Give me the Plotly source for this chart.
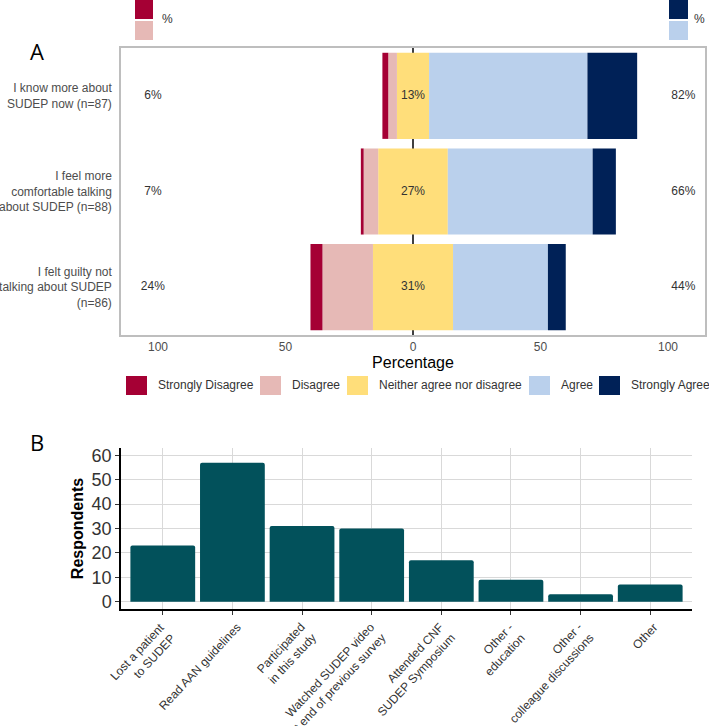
import plotly.graph_objects as go

# ---------- Panel A data (percentages) ----------
statements = ["I know more about<br>SUDEP now (n=87)",
              "I feel more<br>comfortable talking<br>about SUDEP (n=88)",
              "I felt guilty not<br>talking about SUDEP<br>(n=86)"]
strongly_disagree = [2.3, 1.1, 4.7]
disagree = [3.4, 5.7, 19.8]
neutral = [12.6, 27.3, 31.4]
agree = [62.1, 56.8, 37.2]
strongly_agree = [19.5, 9.1, 7.0]
levels = ["Strongly Disagree", "Disagree", "Neither agree nor disagree", "Agree", "Strongly Agree"]
colors = ["#A50034", "#E6B9B6", "#FFDE7A", "#BAD0EC", "#002157"]
a_ticks = [-100, -50, 0, 50, 100]

# ---------- Panel B data ----------
sources = ["Lost a patient<br>to SUDEP", "Read AAN guidelines", "Participated<br>in this study",
           "Watched SUDEP video<br>at end of previous survey", "Attended CNF<br>SUDEP Symposium",
           "Other -<br>education", "Other -<br>colleague discussions", "Other"]
respondents = [23, 57, 31, 30, 17, 9, 3, 7]

W, H = 709, 726
def px(x): return x / W
def py(y): return 1 - y / H

FONT = "Liberation Sans"
fig = go.Figure()

# Panel A stacked diverging bars
half_n = [v / 2 for v in neutral]
segments = [
    ([-v for v in half_n], colors[2], levels[2]),
    ([-v for v in disagree], colors[1], levels[1]),
    ([-v for v in strongly_disagree], colors[0], levels[0]),
    (half_n, colors[2], levels[2]),
    (agree, colors[3], levels[3]),
    (strongly_agree, colors[4], levels[4]),
]
for vals, col, name in segments:
    fig.add_trace(go.Bar(y=statements, x=vals, orientation="h", name=name,
                         marker=dict(color=col, line=dict(width=0)), showlegend=False,
                         xaxis="x", yaxis="y"))

# Percentage labels
left_pct = [round(a + b) for a, b in zip(strongly_disagree, disagree)]
right_pct = [round(a + b) for a, b in zip(agree, strongly_agree)]
mid_pct = [round(v) for v in neutral]
for xpos, vals in [(-102, left_pct), (0, mid_pct), (106, right_pct)]:
    fig.add_trace(go.Scatter(y=statements, x=[xpos] * len(vals), mode="text",
                             text=[f"{v}%" for v in vals],
                             textfont=dict(size=12, color="#333333", family=FONT),
                             showlegend=False, xaxis="x", yaxis="y", hoverinfo="skip"))

# Panel B bars
fig.add_trace(go.Bar(x=sources, y=respondents,
                     marker=dict(color="#02515B", cornerradius=2, line=dict(width=0)),
                     width=0.93, showlegend=False, xaxis="x2", yaxis="y2"))

fig.update_layout(
    width=W, height=H, margin=dict(l=0, r=0, t=0, b=0),
    paper_bgcolor="white", plot_bgcolor="white", showlegend=False,
    font=dict(family=FONT, color="#333333"),
    barmode="relative", bargap=0.1,
    xaxis=dict(domain=[px(121), px(705)], range=[-114.5, 114.5], tickvals=a_ticks,
               ticktext=[str(abs(v)) for v in a_ticks], showgrid=False, zeroline=False,
               showline=True, linecolor="#BEBEBE", linewidth=1.5, mirror=True,
               tickfont=dict(size=12, color="#4D4D4D"), ticks="", automargin=False,
               title=dict(text="Percentage", font=dict(size=16, color="#000000"), standoff=4),
               anchor="y"),
    yaxis=dict(domain=[py(335), py(48)], autorange="reversed", showgrid=False, zeroline=False,
               showline=True, linecolor="#BEBEBE", linewidth=1.5, mirror=True,
               tickfont=dict(size=12, color="#4D4D4D"), ticks="", ticklabelstandoff=5,
               automargin=False, anchor="x"),
    xaxis2=dict(domain=[px(121), px(692)], range=[-0.6, 7.6], showgrid=True, gridcolor="#D9D9D9",
                gridwidth=1, zeroline=False, showline=True, linecolor="#000000", linewidth=1.5,
                ticks="outside", ticklen=4, tickcolor="#333333", showticklabels=False,
                automargin=False, anchor="y2"),
    yaxis2=dict(domain=[py(609), py(448)], range=[-3, 63], tickvals=[0, 10, 20, 30, 40, 50, 60],
                showgrid=True, gridcolor="#D9D9D9", gridwidth=1, zeroline=False, showline=True,
                linecolor="#000000", linewidth=1.5, ticks="outside", ticklen=4, tickcolor="#333333",
                tickfont=dict(size=18, color="#333333"), automargin=False,
                title=dict(text="<b>Respondents</b>", font=dict(size=16, color="#000000"), standoff=4),
                anchor="x2"),
)

# Panel B category labels: rotated, lines right-aligned (hjust = 1)
for cat in sources:
    nlines = cat.count("<br>") + 1
    fig.add_annotation(text=cat, x=cat, xref="x2", y=py(619), yref="paper",
                       xanchor="right", yanchor="top", textangle=-47, align="right",
                       xshift=6 + 6 * nlines, showarrow=False, borderpad=0,
                       font=dict(size=12, color="#333333", family=FONT))

# zero line behind bars
fig.add_shape(type="line", xref="x", yref="y domain", x0=0, x1=0, y0=0, y1=1,
              line=dict(color="#000000", width=1.5), layer="below")

# legend for panel A (drawn as swatches + labels in one row)
legend_x = [126, 260, 347, 529, 599]
for lx, col, name in zip(legend_x, colors, levels):
    fig.add_shape(type="rect", xref="paper", yref="paper", x0=px(lx), x1=px(lx + 21),
                  y0=py(395), y1=py(376), fillcolor=col, line=dict(width=0))
    fig.add_annotation(text=name, x=px(lx + 30), y=py(385.5), xref="paper", yref="paper",
                       xanchor="left", yanchor="middle", showarrow=False,
                       font=dict(size=12, color="#333333", family=FONT))

# panel letters
fig.add_annotation(text="A", x=px(28), y=py(34), xref="paper", yref="paper", showarrow=False,
                   font=dict(size=22, color="#000000", family="Open Sans"))
fig.add_annotation(text="B", x=px(28), y=py(442), xref="paper", yref="paper", showarrow=False,
                   font=dict(size=22, color="#000000", family="Open Sans"))

# clipped legend fragments at top
for (x0, x1, c_top, c_bot, tx) in [(135, 153, colors[0], colors[1], 160), (669, 688, colors[4], colors[3], 692)]:
    fig.add_shape(type="rect", xref="paper", yref="paper", x0=px(x0), x1=px(x1), y0=py(19), y1=py(-2),
                  fillcolor=c_top, line=dict(width=0))
    fig.add_shape(type="rect", xref="paper", yref="paper", x0=px(x0), x1=px(x1), y0=py(40), y1=py(21),
                  fillcolor=c_bot, line=dict(width=0))
    fig.add_annotation(text="%", x=px(tx), y=py(19), xref="paper", yref="paper", showarrow=False,
                       xanchor="left", yanchor="middle",
                       font=dict(size=12, color="#333333", family=FONT))

fig.write_html("out.html", config={"displayModeBar": False},
               post_script="document.body.style.margin='0';document.body.style.overflow='hidden';")
